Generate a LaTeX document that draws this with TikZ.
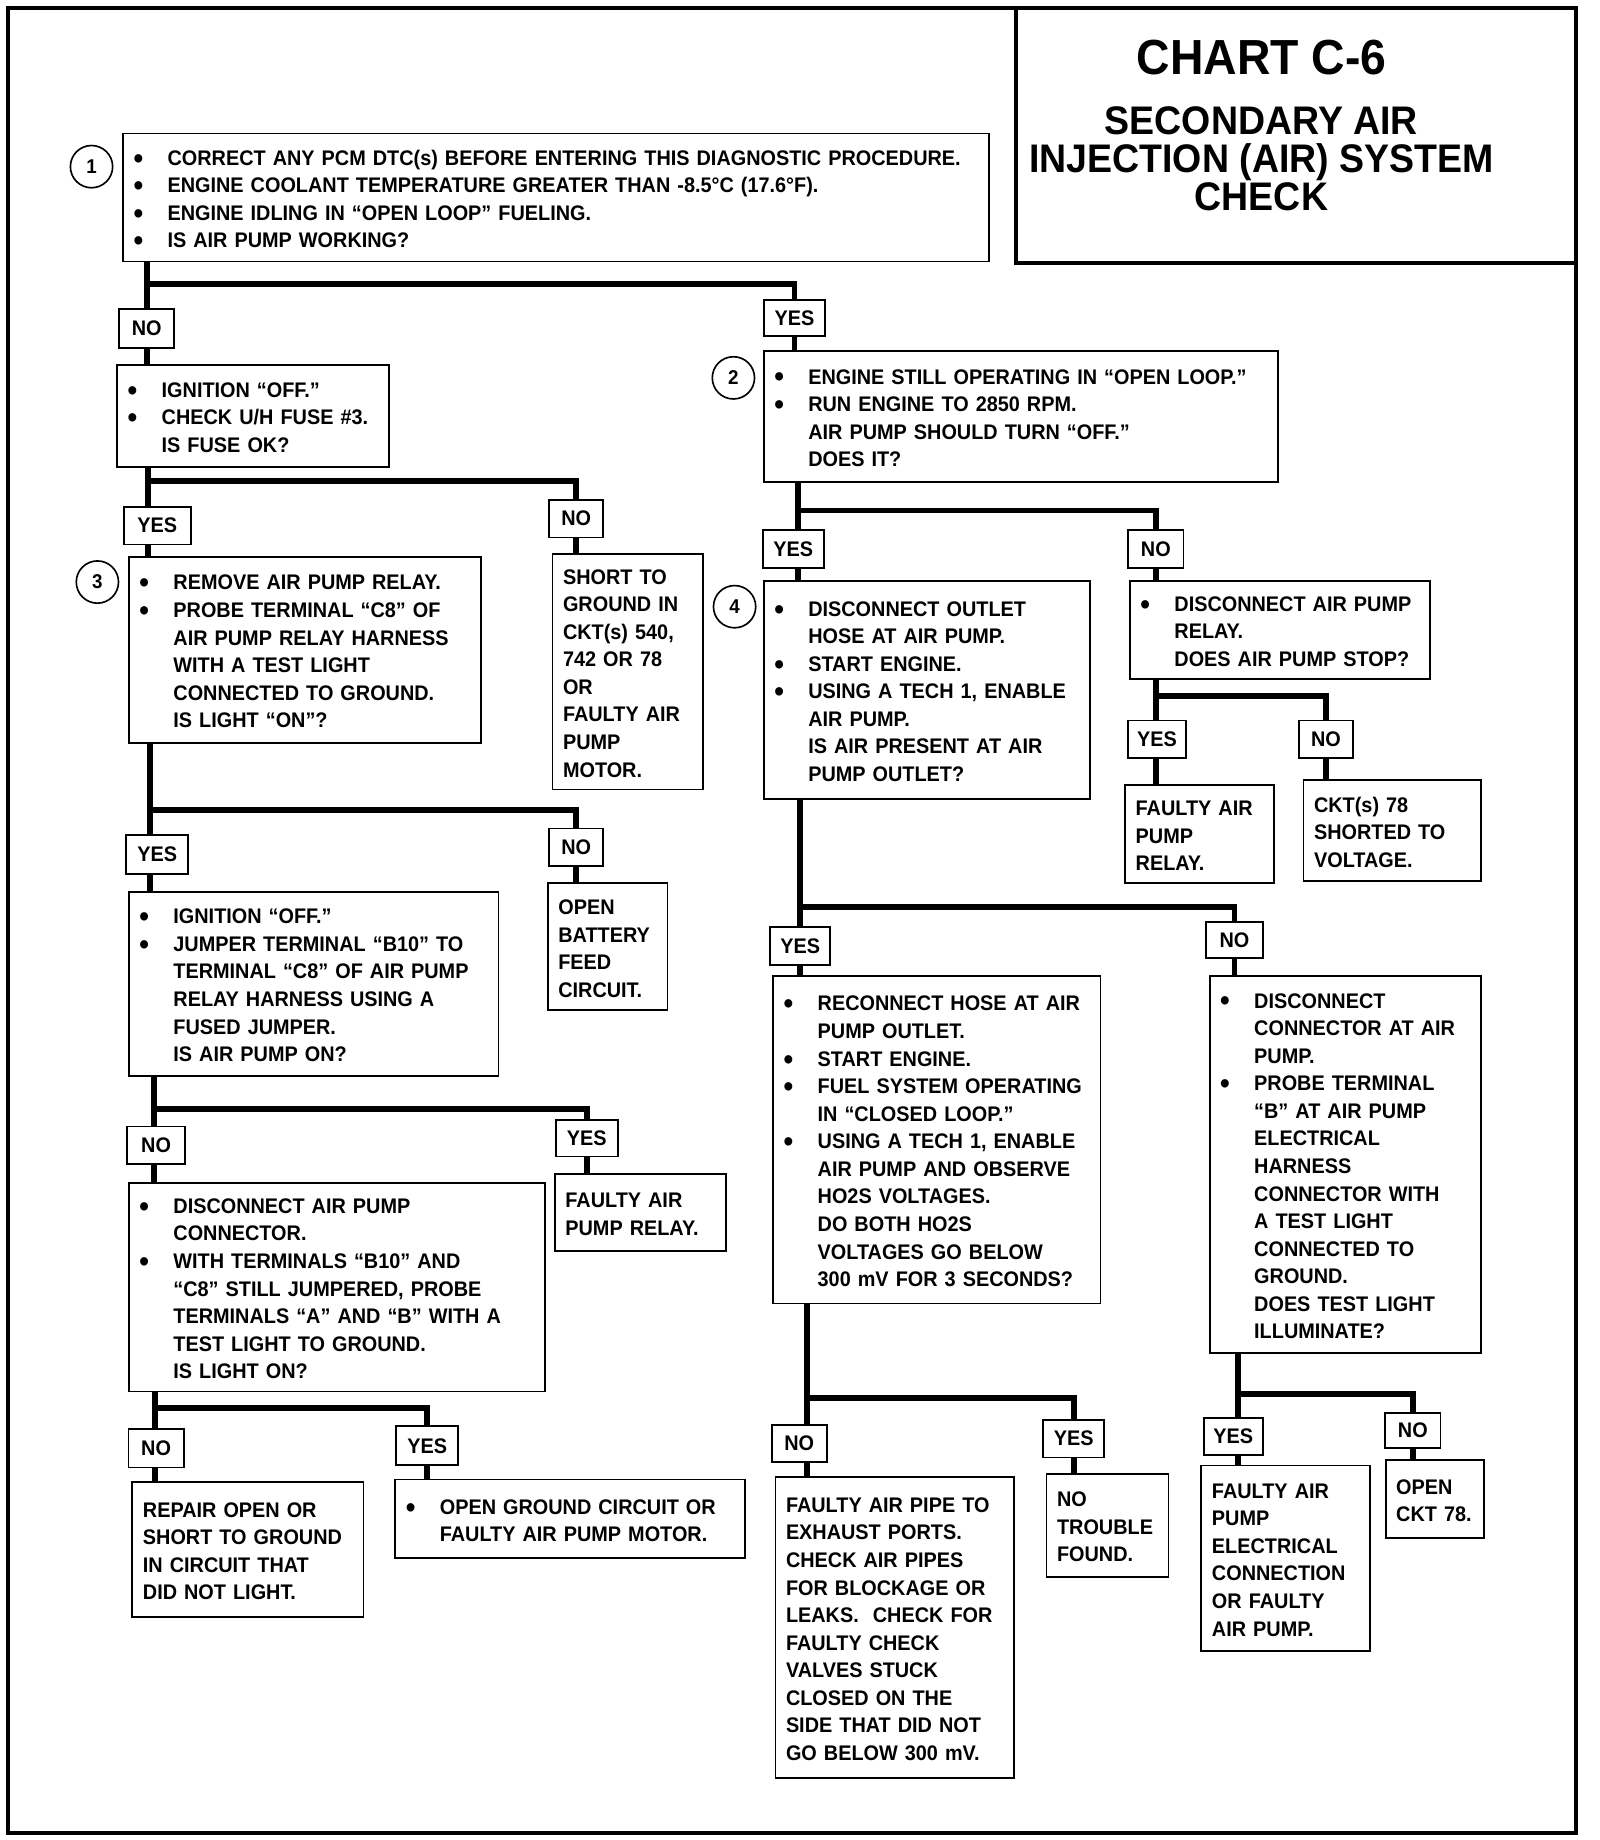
\documentclass[tikz,border=0pt]{standalone}
\usepackage{fontspec}
\newfontfamily\chartfont{Liberation Sans}[FakeStretch=0.94]
\usepackage{tikz}
\usetikzlibrary{calc}
\newcommand{\bitem}{\makebox[29pt][l]{\raisebox{-2.5pt}{\fontsize{25}{25}\selectfont\textbullet}}}
\newcommand{\bcont}{\hspace*{29pt}}
\newcommand{\boxtext}[1]{\noindent\raisebox{-3pt}[\height][\depth]{\begin{tabular}{@{}l@{}}#1\end{tabular}}}
\tikzset{
  stepbox/.style={draw, line width=1.6pt, anchor=north west, align=left, inner xsep=9pt, inner ysep=3pt, font=\chartfont\bfseries\fontsize{18}{23.5}\selectfont},
  answer/.style={draw, line width=1.6pt, inner sep=0pt, minimum width=50pt, minimum height=32pt, font=\chartfont\bfseries\fontsize{18}{20}\selectfont},
  stepnum/.style={circle, draw, line width=1.4pt, minimum size=36pt, inner sep=0pt, font=\chartfont\bfseries\fontsize{17}{20}\selectfont},
  link/.style={line width=5pt}
}

\begin{document}
\begin{tikzpicture}[x=1pt, y=-1pt]
  \useasboundingbox (0,0) rectangle (1363,1568);
  % frame and title block
  \draw[line width=3.5pt] (7,7) rectangle (1343,1562);
  \draw[line width=3pt] (866,7) |- (1343,224);
  \node[font=\chartfont\bfseries\fontsize{42}{44}\selectfont] (title) at (1075,49) {CHART C-6};
  \node[font=\chartfont\bfseries\fontsize{34}{32.5}\selectfont, align=center] (subtitle) at (1075,135) {SECONDARY AIR\\ INJECTION (AIR) SYSTEM\\ CHECK};

  % step 1
  \node[stepnum] (n1) at (78,142) {1};
  \node[stepbox, text width=720pt, minimum height=109pt] (start) at (104,113) {\boxtext{\bitem CORRECT ANY PCM DTC(s) BEFORE ENTERING THIS DIAGNOSTIC PROCEDURE.\\ \bitem ENGINE COOLANT TEMPERATURE GREATER THAN -8.5°C (17.6°F).\\ \bitem ENGINE IDLING IN “OPEN LOOP” FUELING.\\ \bitem IS AIR PUMP WORKING?}};
  \node[answer, minimum width=47pt, minimum height=33pt] (no1) at (125,280) {NO};
  \node[answer, minimum width=52pt, minimum height=30pt] (yes1) at (677,271) {YES};
  \coordinate (j1) at (125,242);

  % left branch
  \node[stepbox, text width=214pt, minimum height=87pt] (fuse) at (99,310) {\boxtext{\bitem IGNITION “OFF.”\\ \bitem CHECK U/H FUSE \#3.\\ \bcont IS FUSE OK?}};
  \node[answer, minimum width=57pt] (yes2) at (134,448) {YES};
  \node[answer, minimum width=46pt] (no2) at (491,442) {NO};
  \coordinate (j2) at (126,410);

  \node[stepnum] (n3) at (83,496) {3};
  \node[stepbox, text width=282pt, minimum height=158pt] (relayprobe) at (109,474) {\boxtext{\bitem REMOVE AIR PUMP RELAY.\\ \bitem PROBE TERMINAL “C8” OF\\ \bcont AIR PUMP RELAY HARNESS\\ \bcont WITH A TEST LIGHT\\ \bcont CONNECTED TO GROUND.\\ \bcont IS LIGHT “ON”?}};
  \node[stepbox, text width=110pt, minimum height=201pt] (shortgnd) at (470,471) {\boxtext{SHORT TO\\ GROUND IN\\ CKT(s) 540,\\ 742 OR 78\\ OR\\ FAULTY AIR\\ PUMP\\ MOTOR.}};
  \node[answer, minimum width=53pt, minimum height=33pt] (yes3) at (134,728) {YES};
  \node[answer, minimum width=46pt] (no3) at (491,722) {NO};
  \coordinate (j3) at (128,690);

  \node[stepbox, text width=297pt, minimum height=157pt] (jumper) at (109,759) {\boxtext{\bitem IGNITION “OFF.”\\ \bitem JUMPER TERMINAL “B10” TO\\ \bcont TERMINAL “C8” OF AIR PUMP\\ \bcont RELAY HARNESS USING A\\ \bcont FUSED JUMPER.\\ \bcont IS AIR PUMP ON?}};
  \node[stepbox, text width=84pt, minimum height=108pt] (openbatt) at (466,752) {\boxtext{OPEN\\ BATTERY\\ FEED\\ CIRCUIT.}};
  \node[answer, minimum width=49pt] (no4) at (133,976) {NO};
  \node[answer, minimum width=53pt, minimum height=31pt] (yes4) at (500,970) {YES};
  \coordinate (j4) at (131,945);

  \node[stepbox, text width=337pt, minimum height=178pt] (pumpconn) at (109,1007) {\boxtext{\bitem DISCONNECT AIR PUMP\\ \bcont CONNECTOR.\\ \bitem WITH TERMINALS “B10” AND\\ \bcont “C8” STILL JUMPERED, PROBE\\ \bcont TERMINALS “A” AND “B” WITH A\\ \bcont TEST LIGHT TO GROUND.\\ \bcont IS LIGHT ON?}};
  \node[stepbox, text width=128pt, minimum height=65pt] (relayfault) at (472,1000) {\boxtext{FAULTY AIR\\ PUMP RELAY.}};
  \node[answer, minimum width=47pt, minimum height=33pt] (no5) at (133,1234) {NO};
  \node[answer, minimum width=53pt, minimum height=33pt] (yes5) at (364,1232) {YES};
  \coordinate (j5) at (132,1200);

  \node[stepbox, text width=179pt, minimum height=115pt] (repair) at (112,1262) {\boxtext{REPAIR OPEN OR\\ SHORT TO GROUND\\ IN CIRCUIT THAT\\ DID NOT LIGHT.}};
  \node[stepbox, text width=280pt, minimum height=67pt] (opengnd) at (336,1260) {\boxtext{\bitem OPEN GROUND CIRCUIT OR\\ \bcont FAULTY AIR PUMP MOTOR.}};

  % right branch
  \node[stepnum] (n2) at (625,322) {2};
  \node[stepbox, text width=420pt, minimum height=112pt] (loopchk) at (650,298) {\boxtext{\bitem ENGINE STILL OPERATING IN “OPEN LOOP.”\\ \bitem RUN ENGINE TO 2850 RPM.\\ \bcont AIR PUMP SHOULD TURN “OFF.”\\ \bcont DOES IT?}};
  \node[answer, minimum width=52pt] (yes6) at (676,468) {YES};
  \node[answer, minimum width=47pt] (no6) at (985,468) {NO};
  \coordinate (j6) at (680,435);

  \node[stepnum] (n4) at (626,517) {4};
  \node[stepbox, text width=260pt, minimum height=186pt] (outlet) at (650,494) {\boxtext{\bitem DISCONNECT OUTLET\\ \bcont HOSE AT AIR PUMP.\\ \bitem START ENGINE.\\ \bitem USING A TECH 1, ENABLE\\ \bcont AIR PUMP.\\ \bcont IS AIR PRESENT AT AIR\\ \bcont PUMP OUTLET?}};
  \node[stepbox, text width=238pt, minimum height=84pt] (relaydisc) at (962,494) {\boxtext{\bitem DISCONNECT AIR PUMP\\ \bcont RELAY.\\ \bcont DOES AIR PUMP STOP?}};
  \node[answer, minimum width=49pt] (yes7) at (986,630) {YES};
  \node[answer, minimum width=46pt] (no7) at (1130,630) {NO};
  \coordinate (j7) at (985,593);

  \node[stepbox, text width=109pt, minimum height=84pt] (relaybad) at (958,668) {\boxtext{FAULTY AIR\\ PUMP\\ RELAY.}};
  \node[stepbox, text width=133pt, minimum height=86pt] (ckt78) at (1110,664) {\boxtext{CKT(s) 78\\ SHORTED TO\\ VOLTAGE.}};
  \node[answer, minimum width=51pt] (yes8) at (682,806) {YES};
  \node[answer, minimum width=48pt, minimum height=30pt] (no8) at (1052,801) {NO};
  \coordinate (j8) at (682,773);

  \node[stepbox, text width=261pt, minimum height=279pt] (reconnect) at (658,831) {\boxtext{\bitem RECONNECT HOSE AT AIR\\ \bcont PUMP OUTLET.\\ \bitem START ENGINE.\\ \bitem FUEL SYSTEM OPERATING\\ \bcont IN “CLOSED LOOP.”\\ \bitem USING A TECH 1, ENABLE\\ \bcont AIR PUMP AND OBSERVE\\ \bcont HO2S VOLTAGES.\\ \bcont DO BOTH HO2S\\ \bcont VOLTAGES GO BELOW\\ \bcont 300 mV FOR 3 SECONDS?}};
  \node[stepbox, text width=213pt, minimum height=321pt] (connprobe) at (1030,831) {\boxtext{\bitem DISCONNECT\\ \bcont CONNECTOR AT AIR\\ \bcont PUMP.\\ \bitem PROBE TERMINAL\\ \bcont “B” AT AIR PUMP\\ \bcont ELECTRICAL\\ \bcont HARNESS\\ \bcont CONNECTOR WITH\\ \bcont A TEST LIGHT\\ \bcont CONNECTED TO\\ \bcont GROUND.\\ \bcont DOES TEST LIGHT\\ \bcont ILLUMINATE?}};
  \node[answer, minimum width=47pt] (no9) at (681,1230) {NO};
  \node[answer, minimum width=52pt] (yes9) at (915,1226) {YES};
  \coordinate (j9) at (688,1191);
  \node[answer, minimum width=50pt] (yes10) at (1051,1224) {YES};
  \node[answer, minimum width=47pt, minimum height=30pt] (no10) at (1204,1219) {NO};
  \coordinate (j10) at (1055,1188);

  \node[stepbox, text width=185pt, minimum height=256pt] (pipes) at (660,1258) {\boxtext{FAULTY AIR PIPE TO\\ EXHAUST PORTS.\\ CHECK AIR PIPES\\ FOR BLOCKAGE OR\\ LEAKS.\ \ CHECK FOR\\ FAULTY CHECK\\ VALVES STUCK\\ CLOSED ON THE\\ SIDE THAT DID NOT\\ GO BELOW 300 mV.}};
  \node[stepbox, text width=86pt, minimum height=88pt] (notrouble) at (891,1255) {\boxtext{NO\\ TROUBLE\\ FOUND.}};
  \node[stepbox, text width=126pt, minimum height=158pt] (elecconn) at (1023,1248) {\boxtext{FAULTY AIR\\ PUMP\\ ELECTRICAL\\ CONNECTION\\ OR FAULTY\\ AIR PUMP.}};
  \node[stepbox, text width=66pt, minimum height=67pt] (openckt) at (1180,1243) {\boxtext{OPEN\\ CKT 78.}};

  % connectors
  \draw[link] (start.south -| j1) -- (j1) -- (j1 |- no1.north);
  \draw[link] (j1) -| (yes1.north);
  \draw[link] (no1.south -| j1) -- (j1 |- fuse.north);
  \draw[link] (yes1.south) -- (yes1.south |- loopchk.north);

  \draw[link] (fuse.south -| j2) -- (j2) -- (j2 |- yes2.north);
  \draw[link] (j2) -| (no2.north);
  \draw[link] (yes2.south -| j2) -- (j2 |- relayprobe.north);
  \draw[link] (no2.south) -- (no2.south |- shortgnd.north);

  \draw[link] (relayprobe.south -| j3) -- (j3) -- (j3 |- yes3.north);
  \draw[link] (j3) -| (no3.north);
  \draw[link] (yes3.south -| j3) -- (j3 |- jumper.north);
  \draw[link] (no3.south) -- (no3.south |- openbatt.north);

  \draw[link] (jumper.south -| j4) -- (j4) -- (j4 |- no4.north);
  \draw[link] (j4) -| (yes4.north);
  \draw[link] (no4.south -| j4) -- (j4 |- pumpconn.north);
  \draw[link] (yes4.south) -- (yes4.south |- relayfault.north);

  \draw[link] (pumpconn.south -| j5) -- (j5) -- (j5 |- no5.north);
  \draw[link] (j5) -| (yes5.north);
  \draw[link] (no5.south -| j5) -- (j5 |- repair.north);
  \draw[link] (yes5.south) -- (yes5.south |- opengnd.north);

  \draw[link] (loopchk.south -| j6) -- (j6) -- (j6 |- yes6.north);
  \draw[link] (j6) -| (no6.north);
  \draw[link] (yes6.south -| j6) -- (j6 |- outlet.north);
  \draw[link] (no6.south) -- (no6.south |- relaydisc.north);

  \draw[link] (relaydisc.south -| j7) -- (j7) -- (j7 |- yes7.north);
  \draw[link] (j7) -| (no7.north);
  \draw[link] (yes7.south -| j7) -- (j7 |- relaybad.north);
  \draw[link] (no7.south) -- (no7.south |- ckt78.north);

  \draw[link] (outlet.south -| j8) -- (j8) -- (j8 |- yes8.north);
  \draw[link] (j8) -| (no8.north);
  \draw[link] (yes8.south -| j8) -- (j8 |- reconnect.north);
  \draw[link] (no8.south) -- (no8.south |- connprobe.north);

  \draw[link] (reconnect.south -| j9) -- (j9) -- (j9 |- no9.north);
  \draw[link] (j9) -| (yes9.north);
  \draw[link] (no9.south -| j9) -- (j9 |- pipes.north);
  \draw[link] (yes9.south) -- (yes9.south |- notrouble.north);

  \draw[link] (connprobe.south -| j10) -- (j10) -- (j10 |- yes10.north);
  \draw[link] (j10) -| (no10.north);
  \draw[link] (yes10.south -| j10) -- (j10 |- elecconn.north);
  \draw[link] (no10.south) -- (no10.south |- openckt.north);
\end{tikzpicture}
\end{document}
